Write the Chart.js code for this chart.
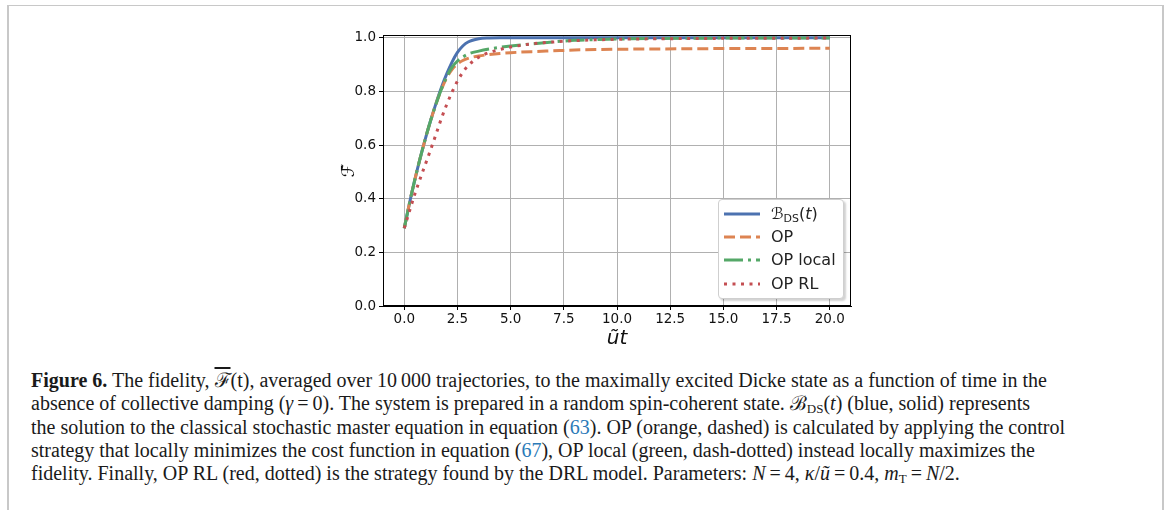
<!DOCTYPE html>
<html>
<head>
<meta charset="utf-8">
<script src="https://cdn.jsdelivr.net/npm/chart.js@4.4.1/dist/chart.umd.min.js"></script>
<style>
  html, body { margin: 0; padding: 0; background: #fff; }
  body { width: 1167px; height: 510px; position: relative; overflow: hidden; }
  .frame {
    position: absolute; left: 7px; top: 5px; width: 1153px; height: 520px;
    border-left: 2px solid #c8c8c8; border-right: 2px solid #c8c8c8; border-top: 1.5px solid #c8c8c8;
  }
  #chartWrap { position: absolute; left: 0; top: 0; width: 1167px; height: 350px; }
  #legend {
    position: absolute; left: 718px; top: 199px; width: 124px; height: 98px;
    border: 1px solid #cfcfcf; border-radius: 4px; background: #fff;
    box-shadow: 2px 2px 2px rgba(0,0,0,0.18);
    font-family: "DejaVu Sans", sans-serif; font-size: 16px; color: #222;
  }
  .lg-row { position: absolute; left: 0; height: 20px; width: 124px; }
  .lg-row svg { position: absolute; left: 4px; top: 5px; }
  .lg-row span.t { position: absolute; left: 52px; top: 0; line-height: 20px; white-space: nowrap; }
  .lg-row sub { font-size: 11px; vertical-align: -3px; line-height: 0; }
  #caption {
    position: absolute; left: 31px; top: 369px;
    font-family: "Liberation Serif", "DejaVu Serif", serif; font-size: 20px; line-height: 23.3px;
    color: #1a1a1a; white-space: nowrap;
  }
  #caption .ref { color: #2a7ab8; }
  #caption sub { font-size: 13px; vertical-align: -3px; line-height: 0; }
</style>
</head>
<body>
<div class="frame"></div>
<div id="chartWrap"><canvas id="fidChart"></canvas></div>
<div id="legend"></div>
<div id="caption">
<b>Figure 6.</b> The fidelity, <span style="text-decoration:overline">ℱ</span>(t), averaged over 10&#8201;000 trajectories, to the maximally excited Dicke state as a function of time in the<br>
absence of collective damping (<i>γ</i>&#8201;=&#8201;0). The system is prepared in a random spin-coherent state. ℬ<sub>DS</sub>(<i>t</i>) (blue, solid) represents<br>
the solution to the classical stochastic master equation in equation (<span class="ref">63</span>). OP (orange, dashed) is calculated by applying the control<br>
strategy that locally minimizes the cost function in equation (<span class="ref">67</span>), OP local (green, dash-dotted) instead locally maximizes the<br>
fidelity. Finally, OP RL (red, dotted) is the strategy found by the DRL model. Parameters: <i>N</i>&#8201;=&#8201;4, <i>κ</i>/<i>ũ</i>&#8201;=&#8201;0.4, <i>m</i><sub>T</sub>&#8201;=&#8201;<i>N</i>/2.
</div>
<script>
// ── data ─────────────────────────────────────────────────
const tValues = [0, 0.25, 0.5, 0.75, 1, 1.25, 1.5, 1.75, 2, 2.25, 2.5, 2.75, 3, 3.5, 4, 4.5, 5, 6, 7, 8, 9, 10, 12, 14, 16, 18, 20];
const blueFid   = [0.29, 0.385, 0.472, 0.552, 0.626, 0.694, 0.757, 0.815, 0.866, 0.910, 0.945, 0.969, 0.984, 0.996, 0.999, 1.0, 1.0, 1.0, 1.0, 1.0, 1.0, 1.0, 1.0, 1.0, 1.0, 1.0, 1.0];
const orangeFid = [0.29, 0.385, 0.472, 0.552, 0.626, 0.694, 0.755, 0.808, 0.851, 0.882, 0.902, 0.915, 0.923, 0.932, 0.937, 0.941, 0.944, 0.948, 0.951, 0.954, 0.956, 0.957, 0.958, 0.959, 0.960, 0.960, 0.961];
const greenFid  = [0.29, 0.385, 0.472, 0.552, 0.626, 0.694, 0.755, 0.809, 0.855, 0.890, 0.913, 0.928, 0.939, 0.950, 0.958, 0.964, 0.969, 0.977, 0.984, 0.990, 0.993, 0.995, 0.997, 0.998, 0.999, 0.999, 0.999];
const redFid    = [0.29, 0.355, 0.418, 0.475, 0.53, 0.585, 0.642, 0.70, 0.752, 0.798, 0.838, 0.871, 0.896, 0.927, 0.945, 0.956, 0.965, 0.977, 0.984, 0.989, 0.992, 0.994, 0.996, 0.997, 0.998, 0.998, 0.999];
const xTicks = [0, 2.5, 5, 7.5, 10, 12.5, 15, 17.5, 20];
const yTicks = [0, 0.2, 0.4, 0.6, 0.8, 1.0];

const seriesDefs = [
  { label: "ℬ<sub>DS</sub>(<i>t</i>)", data: blueFid,   color: "#4c72b0", dash: [] },
  { label: "OP",                       data: orangeFid, color: "#dd8452", dash: [11, 5] },
  { label: "OP local",                 data: greenFid,  color: "#55a868", dash: [19, 5, 3, 5] },
  { label: "OP RL",                    data: redFid,    color: "#c44e52", dash: [3, 5.5] }
];

const TICK_FONT = { family: "'DejaVu Sans'", size: 13.5 };

/* ── frame around the axes (matplotlib spines) ───────────*/
const boxPlugin = {
  id: "box",
  afterDatasetsDraw(chart) {
    const { ctx, chartArea: a } = chart;
    ctx.save();
    ctx.strokeStyle = "#000";
    ctx.lineWidth = 1;
    ctx.strokeRect(a.left + 0.5, a.top + 0.5, a.right - a.left - 1, a.bottom - a.top - 1);
    ctx.restore();
  }
};

new Chart(document.getElementById("fidChart"), {
  type: "line",
  data: {
    datasets: seriesDefs.map((s, i) => ({
      label: s.label,
      data: tValues.map((t, k) => ({ x: t, y: s.data[k] })),
      borderColor: s.color,
      borderWidth: 3,
      borderDash: s.dash,
      borderCapStyle: "butt",
      pointRadius: 0,
      fill: false,
      cubicInterpolationMode: "monotone",
      order: seriesDefs.length - i
    }))
  },
  options: {
    responsive: true,
    maintainAspectRatio: false,
    animation: false,
    layout: { padding: { left: 333, right: 316, top: 35, bottom: 0 } },
    scales: {
      x: {
        type: "linear", min: -1, max: 21,
        afterBuildTicks: s => { s.ticks = xTicks.map(v => ({ value: v })); },
        afterFit: s => { s.height = 44; },
        ticks: { color: "#111", font: TICK_FONT, padding: 1, maxRotation: 0, callback: v => v.toFixed(1) },
        grid: { color: "#b0b0b0", lineWidth: 1, tickColor: "#000", tickLength: 4 },
        border: { color: "#000", width: 1 },
        title: { display: true, text: "ũt", color: "#111", font: { family: "'DejaVu Sans'", size: 20, style: "italic" }, padding: { top: 0, bottom: -1 } }
      },
      y: {
        min: 0, max: 1.01,
        afterBuildTicks: s => { s.ticks = yTicks.map(v => ({ value: v })); },
        afterFit: s => { s.width = 50; },
        ticks: { color: "#111", font: TICK_FONT, padding: 3, callback: v => v.toFixed(1) },
        grid: { color: "#b0b0b0", lineWidth: 1, tickColor: "#000", tickLength: 4 },
        border: { color: "#000", width: 1 },
        title: { display: true, text: "ℱ̄", color: "#111", font: { family: "'DejaVu Sans'", size: 17, lineHeight: 1.9 }, padding: 0 }
      }
    },
    plugins: { legend: { display: false }, tooltip: { enabled: false } }
  },
  plugins: [boxPlugin]
});

/* ── legend (html, so the subscript renders) ─────────────*/
const legendEl = document.getElementById("legend");
const rowTops = [4, 27, 50, 74];
legendEl.innerHTML = seriesDefs.map((s, i) => `
  <div class="lg-row" style="top:${rowTops[i]}px">
    <svg width="38" height="10"><line x1="1" y1="5" x2="37" y2="5" stroke="${s.color}" stroke-width="3" stroke-dasharray="${s.dash.length ? s.dash.join(' ') : 'none'}"/></svg>
    <span class="t">${s.label}</span>
  </div>`).join("");
</script>
</body>
</html>
